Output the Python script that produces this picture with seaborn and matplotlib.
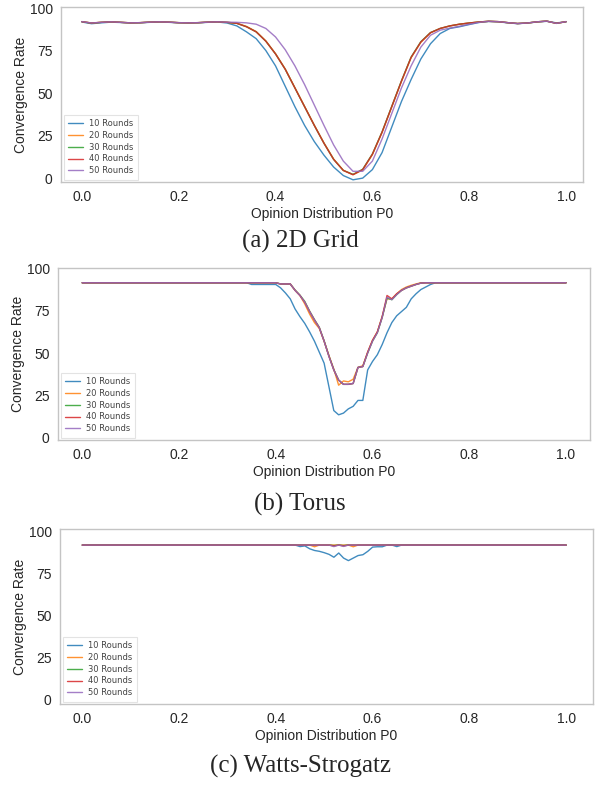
import pandas as pd
import matplotlib
matplotlib.use("Agg")
import matplotlib.pyplot as plt
import seaborn as sns

ROUNDS = ["10 Rounds", "20 Rounds", "30 Rounds", "40 Rounds", "50 Rounds"]
COLORS = ["#1f77b4", "#ff7f0e", "#2ca02c", "#d62728", "#9467bd"]

# (a) 2D Grid -- P0 in steps of 0.02
GRID_X = [0.00, 0.02, 0.04, 0.06, 0.08, 0.10, 0.12, 0.14, 0.16, 0.18,
          0.20, 0.22, 0.24, 0.26, 0.28, 0.30, 0.32, 0.34, 0.36, 0.38,
          0.40, 0.42, 0.44, 0.46, 0.48, 0.50, 0.52, 0.54, 0.56, 0.58,
          0.60, 0.62, 0.64, 0.66, 0.68, 0.70, 0.72, 0.74, 0.76, 0.78,
          0.80, 0.82, 0.84, 0.86, 0.88, 0.90, 0.92, 0.94, 0.96, 0.98, 1.00]
GRID_10 = [91.8, 90.8, 91.3, 91.7, 91.5, 91.2, 91.3, 91.6, 91.8, 91.6,
           91.3, 91.2, 91.3, 91.6, 91.8, 91.2, 89.5, 86.0, 82.0, 75.0,
           66.0, 54.0, 42.0, 31.0, 21.5, 13.5, 6.5, 1.5, -1.0, 0.0,
           5.0, 15.0, 30.0, 45.0, 58.0, 70.0, 79.0, 85.0, 88.0, 89.0,
           90.3, 91.5, 92.1, 91.9, 91.3, 90.8, 91.2, 91.8, 92.2, 91.3, 91.8]
GRID_20 = [92.0, 91.2, 91.6, 91.9, 91.6, 91.3, 91.4, 91.7, 91.9, 91.7,
           91.4, 91.3, 91.4, 91.7, 91.9, 91.6, 91.1, 89.2, 86.2, 80.7,
           73.2, 64.2, 53.2, 42.2, 31.2, 20.7, 11.2, 4.6, 2.0, 4.8,
           13.8, 26.8, 41.8, 56.8, 70.8, 79.8, 85.4, 88.0, 89.5, 90.5,
           91.2, 91.8, 92.2, 92.0, 91.4, 90.9, 91.2, 91.9, 92.3, 91.0, 92.0]
GRID_30 = [92.0, 91.1, 91.6, 91.9, 91.6, 91.3, 91.4, 91.7, 91.9, 91.7,
           91.4, 91.3, 91.4, 91.7, 91.9, 91.6, 91.0, 89.0, 86.0, 80.5,
           73.0, 64.0, 53.0, 42.0, 31.0, 20.5, 11.0, 4.5, 2.2, 5.2,
           14.2, 27.2, 42.2, 57.2, 71.2, 80.2, 85.6, 88.0, 89.5, 90.5,
           91.2, 91.8, 92.2, 92.0, 91.4, 90.9, 91.2, 91.9, 92.3, 91.0, 92.0]
GRID_40 = [92.0, 91.2, 91.6, 91.9, 91.6, 91.3, 91.4, 91.7, 91.9, 91.7,
           91.4, 91.3, 91.4, 91.7, 91.9, 91.6, 91.0, 89.0, 86.0, 80.5,
           73.0, 64.0, 53.0, 42.0, 31.0, 20.5, 11.0, 4.5, 2.0, 5.0,
           14.0, 27.0, 42.0, 57.0, 71.0, 80.0, 85.5, 88.0, 89.5, 90.5,
           91.2, 91.8, 92.2, 92.0, 91.4, 90.9, 91.2, 91.9, 92.3, 91.0, 92.0]
GRID_50 = [92.0, 91.2, 91.6, 91.9, 91.6, 91.3, 91.4, 91.7, 91.9, 91.7,
           91.4, 91.3, 91.4, 91.7, 91.9, 91.7, 91.6, 91.3, 90.5, 88.0,
           83.0, 75.5, 66.0, 55.0, 43.0, 31.0, 19.5, 10.0, 4.0, 4.0,
           10.0, 23.0, 38.0, 53.0, 66.0, 77.0, 84.0, 87.0, 88.2, 89.3,
           90.5, 91.6, 92.2, 92.0, 91.4, 90.9, 91.2, 91.9, 92.3, 91.0, 92.0]

# (b) Torus -- coarse in the flat parts, 0.01 steps around the dip
TORUS_X = [0.00, 0.10, 0.20, 0.30,
           0.34, 0.35, 0.36, 0.37, 0.38, 0.39, 0.40, 0.41, 0.42, 0.43,
           0.44, 0.45, 0.46, 0.47, 0.48, 0.49, 0.50, 0.51, 0.52, 0.53,
           0.54, 0.55, 0.56, 0.57, 0.58, 0.59, 0.60, 0.61, 0.62, 0.63,
           0.64, 0.65, 0.66, 0.67, 0.68, 0.69, 0.70, 0.71, 0.72, 0.73,
           0.80, 0.90, 1.00]
TORUS_10 = [91.5, 91.5, 91.5, 91.5,
            91.5, 90.5, 90.5, 90.5, 90.5, 90.5, 90.5, 88.5, 85.5, 82.0,
            76.0, 71.5, 67.5, 62.5, 57.0, 50.5, 44.0, 30.0, 16.0, 13.5,
            14.5, 17.0, 18.5, 22.0, 22.0, 40.0, 45.0, 49.0, 55.0, 62.0,
            68.0, 72.0, 74.5, 77.0, 82.0, 85.0, 87.5, 89.0, 90.5, 91.5,
            91.5, 91.5, 91.5]
TORUS_20 = [91.5, 91.5, 91.5, 91.5,
            91.5, 91.5, 91.5, 91.5, 91.5, 91.5, 91.5, 90.8, 90.8, 90.8,
            87.0, 84.0, 79.0, 73.0, 68.0, 64.5, 57.0, 48.5, 40.5, 31.0,
            33.5, 33.0, 34.5, 41.5, 42.5, 50.5, 57.5, 62.5, 71.5, 82.0,
            82.0, 85.0, 87.5, 89.0, 90.0, 90.8, 91.5, 91.5, 91.5, 91.5,
            91.5, 91.5, 91.5]
TORUS_30 = [91.5, 91.5, 91.5, 91.5,
            91.5, 91.5, 91.5, 91.5, 91.5, 91.5, 91.5, 90.8, 90.8, 90.8,
            87.2, 84.2, 80.5, 74.8, 69.8, 65.2, 57.2, 48.2, 40.2, 34.0,
            31.5, 31.5, 32.0, 41.5, 42.0, 50.0, 57.0, 62.0, 71.0, 82.5,
            81.5, 84.5, 87.0, 88.5, 89.5, 90.5, 91.3, 91.5, 91.5, 91.5,
            91.5, 91.5, 91.5]
TORUS_40 = [91.5, 91.5, 91.5, 91.5,
            91.5, 91.5, 91.5, 91.5, 91.5, 91.5, 91.5, 90.8, 90.8, 90.8,
            87.0, 84.0, 80.0, 74.5, 69.5, 65.0, 57.0, 48.0, 40.0, 34.0,
            31.5, 31.5, 32.0, 41.5, 42.0, 50.5, 57.5, 62.5, 71.5, 84.0,
            82.0, 85.0, 87.0, 88.5, 89.5, 90.5, 91.3, 91.5, 91.5, 91.5,
            91.5, 91.5, 91.5]
TORUS_50 = [91.5, 91.5, 91.5, 91.5,
            91.5, 91.5, 91.5, 91.5, 91.5, 91.5, 91.5, 90.8, 90.8, 90.8,
            87.0, 84.0, 80.0, 74.5, 69.5, 65.0, 57.0, 48.0, 40.0, 34.0,
            31.5, 31.5, 32.0, 41.5, 42.0, 50.0, 57.0, 62.0, 71.0, 83.0,
            81.5, 84.5, 87.0, 88.5, 89.5, 90.5, 91.3, 91.5, 91.5, 91.5,
            91.5, 91.5, 91.5]

# (c) Watts-Strogatz
WS_X = [0.00, 0.10, 0.20, 0.30, 0.40,
        0.44, 0.45, 0.46, 0.47, 0.48, 0.49, 0.50, 0.51, 0.52, 0.53,
        0.54, 0.55, 0.56, 0.57, 0.58, 0.59, 0.60, 0.61, 0.62, 0.63,
        0.64, 0.65, 0.66, 0.67,
        0.70, 0.80, 0.90, 1.00]
WS_10 = [91.7, 91.7, 91.7, 91.7, 91.7,
         91.7, 90.8, 91.2, 89.5, 88.5, 88.0, 87.2, 86.2, 84.5, 87.0,
         84.0, 82.5, 84.0, 85.5, 86.0, 88.0, 90.5, 90.7, 90.7, 91.7,
         91.7, 90.8, 91.7, 91.7,
         91.7, 91.7, 91.7, 91.7]
WS_20 = [91.7, 91.7, 91.7, 91.7, 91.7,
         91.7, 91.7, 91.7, 91.7, 90.7, 91.7, 91.7, 91.7, 91.7, 91.7,
         91.7, 91.7, 90.7, 91.7, 91.7, 91.7, 91.7, 91.7, 91.7, 91.7,
         91.7, 91.7, 91.7, 91.7,
         91.7, 91.7, 91.7, 91.7]
WS_30 = [91.7, 91.7, 91.7, 91.7, 91.7,
         91.7, 91.7, 91.7, 91.7, 91.7, 91.7, 91.7, 91.7, 91.4, 91.7,
         91.4, 91.7, 91.7, 91.7, 91.7, 91.7, 91.7, 91.7, 91.7, 91.7,
         91.7, 91.7, 91.7, 91.7,
         91.7, 91.7, 91.7, 91.7]
WS_40 = [91.7, 91.7, 91.7, 91.7, 91.7,
         91.7, 91.7, 91.7, 91.7, 91.7, 91.7, 91.7, 91.7, 91.2, 91.7,
         91.2, 91.7, 91.7, 91.7, 91.7, 91.7, 91.7, 91.7, 91.7, 91.7,
         91.7, 91.7, 91.7, 91.7,
         91.7, 91.7, 91.7, 91.7]
WS_50 = [91.7, 91.7, 91.7, 91.7, 91.7,
         91.7, 91.7, 91.7, 91.7, 91.7, 91.7, 91.7, 91.7, 90.8, 91.7,
         90.9, 91.7, 91.7, 91.7, 91.7, 91.7, 91.7, 91.7, 91.7, 91.7,
         91.7, 91.7, 91.7, 91.7,
         91.7, 91.7, 91.7, 91.7]

CAPTIONS = ["(a) 2D Grid", "(b) Torus", "(c) Watts-Strogatz"]


def long_form(x, series):
    frames = [pd.DataFrame({"p0": x, "rate": vals, "Rounds": name})
              for name, vals in zip(ROUNDS, series)]
    return pd.concat(frames, ignore_index=True)


panels = [
    (long_form(GRID_X, [GRID_10, GRID_20, GRID_30, GRID_40, GRID_50]),
     [0.1017, 0.7693, 0.870, 0.2218], (-0.043, 1.035), (-2.3, 100.6), 0.694),
    (long_form(TORUS_X, [TORUS_10, TORUS_20, TORUS_30, TORUS_40, TORUS_50]),
     [0.0967, 0.4423, 0.887, 0.2184], (-0.05, 1.05), (-1.4, 100.4), 0.361),
    (long_form(WS_X, [WS_10, WS_20, WS_30, WS_40, WS_50]),
     [0.1000, 0.1077, 0.888, 0.2218], (-0.046, 1.055), (-2.4, 101.2), 0.028),
]

sns.set_style("white")
plt.rcParams["font.family"] = ["Liberation Sans", "DejaVu Sans"]

fig = plt.figure(figsize=(6, 7.89), dpi=100)
palette = dict(zip(ROUNDS, COLORS))

for (df, pos, xlim, ylim, cap_y), caption in zip(panels, CAPTIONS):
    ax = fig.add_axes(pos)
    sns.lineplot(data=df, x="p0", y="rate", hue="Rounds", hue_order=ROUNDS,
                 palette=palette, estimator=None, linewidth=1.0, alpha=0.85,
                 ax=ax)
    ax.set_xlim(*xlim)
    ax.set_ylim(*ylim)
    ax.set_xticks([0.0, 0.2, 0.4, 0.6, 0.8, 1.0])
    ax.set_yticks([0, 25, 50, 75, 100])
    ax.tick_params(axis="both", labelsize=10, length=3, width=0.8,
                   color="#bbbbbb", pad=3)
    for side in ax.spines.values():
        side.set_color("#c4c4c4")
        side.set_linewidth(1.0)
    ax.set_xlabel("Opinion Distribution P0", fontsize=10, labelpad=2)
    ax.set_ylabel("Convergence Rate", fontsize=10, labelpad=1)
    leg = ax.legend(loc="lower left", handlelength=1.8,
                    labelspacing=0.35, borderaxespad=0.3, borderpad=0.5,
                    frameon=True, fancybox=False,
                    prop={"family": ["Liberation Sans Narrow", "DejaVu Sans"],
                          "size": 6})
    leg.get_frame().set_edgecolor("#dddddd")
    leg.get_frame().set_linewidth(0.8)
    for t in leg.get_texts():
        t.set_color("#444444")
    fig.text(0.5, cap_y, caption, ha="center", va="center",
             fontsize=18, family=["Liberation Serif", "DejaVu Serif"])

fig.savefig("out.png", dpi=100)
